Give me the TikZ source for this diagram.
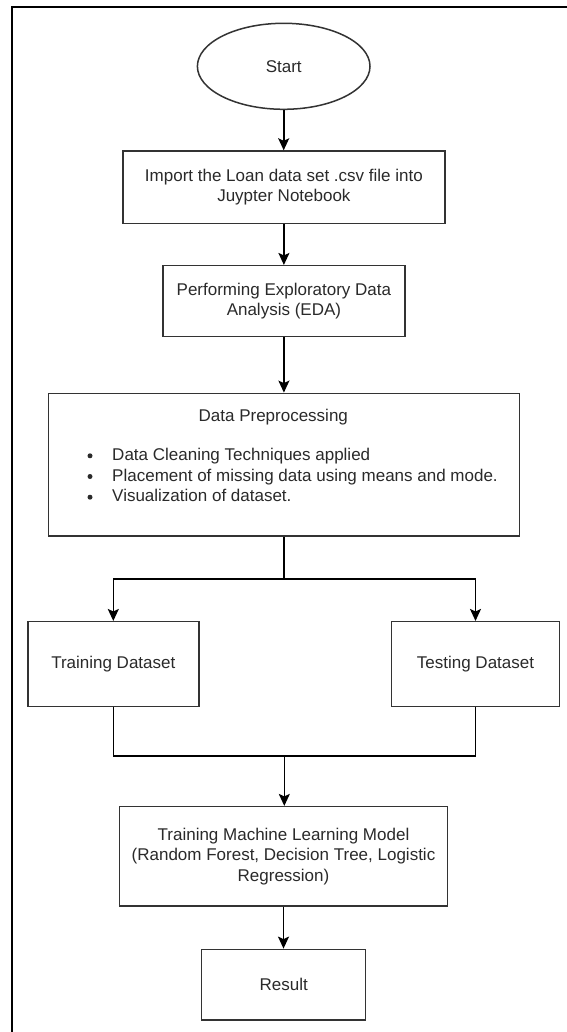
\documentclass[tikz,border=0pt]{standalone}
\usepackage{fontspec}
\setmainfont{Liberation Sans}
\usetikzlibrary{arrows.meta,shapes.geometric,calc}
\definecolor{ink}{HTML}{2A2A2A}
\definecolor{edge}{HTML}{333333}

\begin{document}
\begin{tikzpicture}[x=1pt,y=-1pt,
  every node/.style={font=\fontsize{17}{20.5}\selectfont, text=ink},
  box/.style={draw=edge, line width=1.5pt, rectangle, inner sep=0pt, align=center},
  term/.style={draw=edge, line width=1.5pt, ellipse, inner sep=0pt},
  flow/.style={draw=black, line width=1.6pt, -{Stealth[length=12pt,width=11pt,inset=2.5pt]}},
  link/.style={draw=black, line width=1.6pt},
  frame/.style={draw=black, line width=2.4pt},
  dot/.style={fill=ink}
]
% page and outer frame
\useasboundingbox (0,0) rectangle (566,1032);
\fill[white] (0,0) rectangle (566,1032);
\draw[frame] (11.7,1045) -- (11.7,7) -- (580,7);

% flowchart steps
\node[term, minimum width=172.6pt, minimum height=86pt] (start) at (283.7,66.3) {Start};
\node[box, minimum width=322.3pt, minimum height=72.3pt] (imp) at (283.9,187.2)
  {Import the Loan data set .csv file into\\Juypter Notebook};
\node[box, minimum width=242.3pt, minimum height=71pt] (eda) at (283.9,301.2)
  {Performing Exploratory Data\\Analysis (EDA)};
\node[box, minimum width=471pt, minimum height=142.7pt] (prep) at (283.8,464.7) {};
\node (preptitle) at (273.3,417.3) {Data Preprocessing};
\node[anchor=base west] (b1) at (108.7,460.3) {Data Cleaning Techniques applied};
\node[anchor=base west] (b2) at (108.7,481.0) {Placement of missing data using means and mode.};
\node[anchor=base west] (b3) at (108.7,501.7) {Visualization of dataset.};
\fill[dot] (90,455.8) circle (2.5pt);
\fill[dot] (90,476.5) circle (2.5pt);
\fill[dot] (90,497.2) circle (2.5pt);

\node[box, minimum width=171pt, minimum height=85pt] (train) at (113.3,664.2) {Training Dataset};
\node[box, minimum width=168.3pt, minimum height=85pt] (test) at (475.5,664.2) {Testing Dataset};
\node[box, minimum width=328.4pt, minimum height=99.3pt] (ml) at (283.5,856.3)
  {Training Machine Learning Model\\(Random Forest, Decision Tree, Logistic\\Regression)};
\node[box, minimum width=164pt, minimum height=70.7pt] (res) at (283.7,984.7) {Result};

% connectors
\coordinate (split) at (284.3,579);
\coordinate (join) at (284.3,756);
\draw[flow] (start.south) -- (start.south |- imp.north);
\draw[flow] (imp.south) -- (imp.south |- eda.north);
\draw[flow] (eda.south) -- (eda.south |- prep.north);
\draw[link] (prep.south) -- (prep.south |- split);
\draw[flow] (prep.south |- split) -| (train.north);
\draw[flow] (prep.south |- split) -| (test.north);
\draw[link] (train.south) -- (train.south |- join) -- (test.south |- join) -- (test.south);
\draw[flow] (join) -- (join |- ml.north);
\draw[flow] (ml.south) -- (ml.south |- res.north);
\end{tikzpicture}
\end{document}
